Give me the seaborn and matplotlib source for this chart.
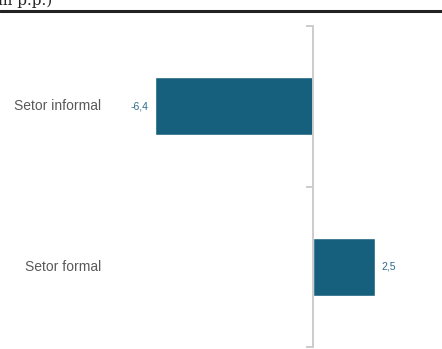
import matplotlib
matplotlib.use("Agg")
import matplotlib.pyplot as plt
from matplotlib.lines import Line2D
import matplotlib.transforms as mtrans
import seaborn as sns
import pandas as pd

categories = ["Setor informal", "Setor formal"]
values = [-6.4, 2.5]
value_labels = ["-6,4", "2,5"]

sns.set_theme(style="white")
plt.rcParams['font.family'] = ['Liberation Sans', 'DejaVu Sans']

df = pd.DataFrame({"cat": categories, "val": values})

fig = plt.figure(figsize=(4.42, 3.49), dpi=100)
W, H = 442, 349
ax = fig.add_axes([115 / W, 1 - 347 / H, (412 - 115) / W, (347 - 26) / H])

bar_color = "#17607D"
sns.barplot(data=df, x="val", y="cat", orient="h", color=bar_color,
            width=0.36, saturation=1, ax=ax)

ax.set_xlim(-8, 4)
ax.set_ylim(1.5, -0.5)
ax.set_xlabel("")
ax.set_ylabel("")
ax.set_xticks([])

for s in ["top", "right", "bottom"]:
    ax.spines[s].set_visible(False)
ax.spines["left"].set_position(("data", 0))
ax.spines["left"].set_color("#cccccc")
ax.spines["left"].set_linewidth(1.4)

ax.set_yticks([0, 1])
ax.set_yticklabels([])
ax.tick_params(axis="y", which="major", length=0)
ax.set_yticks([-0.5, 0.5, 1.5], minor=True)
ax.tick_params(axis="y", which="minor", length=5, width=1.4, color="#cccccc",
               direction="out", left=True)

trans = mtrans.blended_transform_factory(ax.transAxes, ax.transData)
off = mtrans.ScaledTranslation(-14 / 100, 0, fig.dpi_scale_trans)
for i, c in enumerate(categories):
    ax.text(0, i, c, transform=trans + off, ha="right", va="center",
            fontsize=10, color="#595959")

ax.bar_label(ax.containers[0], labels=value_labels, padding=4.5,
             fontsize=7.5, color="#2a6a8c")

fig.text(52 / W, 1 - 5 / H, "(em p.p.)", ha="right", va="baseline",
         fontsize=11, family="DejaVu Serif", color="#222222")
fig.add_artist(Line2D([0, 1], [1 - 11 / H, 1 - 11 / H], color="#222222",
                      linewidth=2.2, transform=fig.transFigure))

fig.savefig("out.png", dpi=100)
